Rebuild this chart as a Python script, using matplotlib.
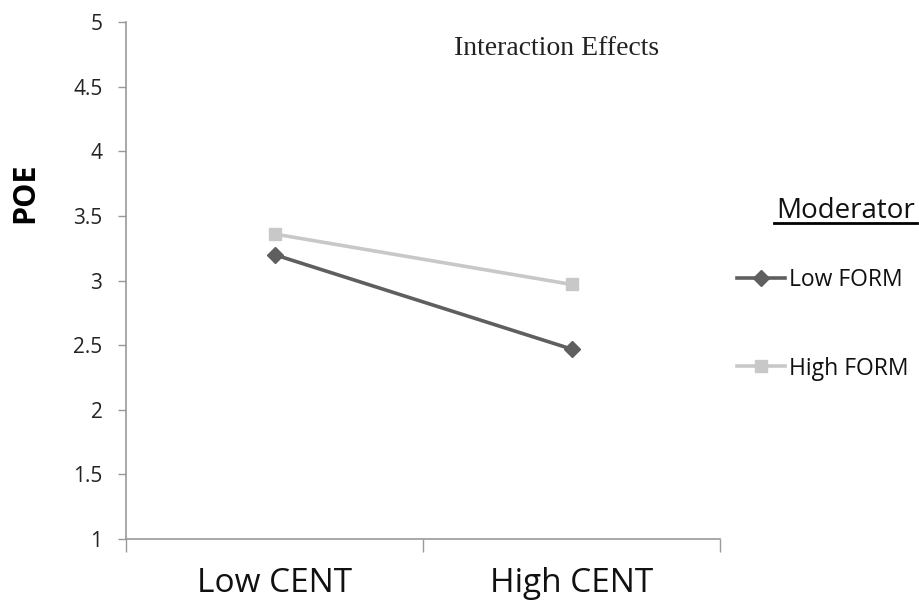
import matplotlib.pyplot as plt
from matplotlib.lines import Line2D

categories = ["Low CENT", "High CENT"]
low_form = [3.20, 2.47]
high_form = [3.36, 2.97]
series_names = ["Low FORM", "High FORM"]
yticks = [1, 1.5, 2, 2.5, 3, 3.5, 4, 4.5, 5]

font = "Open Sans"

fig = plt.figure(figsize=(9.2, 6.03), dpi=100)
ax = fig.add_axes([0.137, 0.106, 0.6456, 0.8575])

xs = [0.5, 1.5]
ax.plot(xs, low_form, color="#5f5f5f", lw=2.6, marker="D", ms=8, label=series_names[0])
ax.plot(xs, high_form, color="#c8c8c8", lw=2.6, marker="s", ms=9, label=series_names[1])

ax.set_xlim(0, 2)
ax.set_ylim(1, 5)
ax.set_yticks(yticks)
ax.set_yticklabels([f"{v:g}" for v in yticks], fontsize=15, family=font, color="#222222")
ax.set_xticks([0, 1, 2])
ax.set_xticklabels([])
ax.set_xticks(xs, minor=True)
ax.set_xticklabels(categories, minor=True, fontsize=24, family=font, color="#111111")
ax.tick_params(axis="x", which="minor", length=0, pad=20)
ax.tick_params(axis="x", which="major", direction="out", length=9, color="#999999", width=1)
ax.tick_params(axis="y", length=6, color="#999999", width=1, pad=11)

for s in ["top", "right"]:
    ax.spines[s].set_visible(False)
for s in ["left", "bottom"]:
    ax.spines[s].set_color("#999999")
    ax.spines[s].set_linewidth(1.2)

fig.text(0.027, 0.68, "POE", fontsize=22, fontweight="bold", family=font,
         rotation=90, ha="center", va="center")

fig.text(0.605, 0.909, "Interaction Effects", family="Liberation Serif", fontsize=20,
         ha="center", va="baseline", color="#222222")

# legend title with underline
fig.text(0.919, 1 - 218 / 603, "Moderator", family=font, fontsize=20, ha="center",
         va="baseline", color="#111111")
fig.add_artist(Line2D([0.841, 0.997], [1 - 223 / 603] * 2, color="black", lw=2))

leg = ax.legend(loc="upper left", bbox_to_anchor=(0.789, 0.574), bbox_transform=fig.transFigure,
                frameon=False, prop={"family": font, "size": 16.5}, labelspacing=2.8,
                handlelength=2.1, handletextpad=0.15, borderpad=0)
for t in leg.get_texts():
    t.set_color("#111111")

fig.savefig("out.png", dpi=100)
